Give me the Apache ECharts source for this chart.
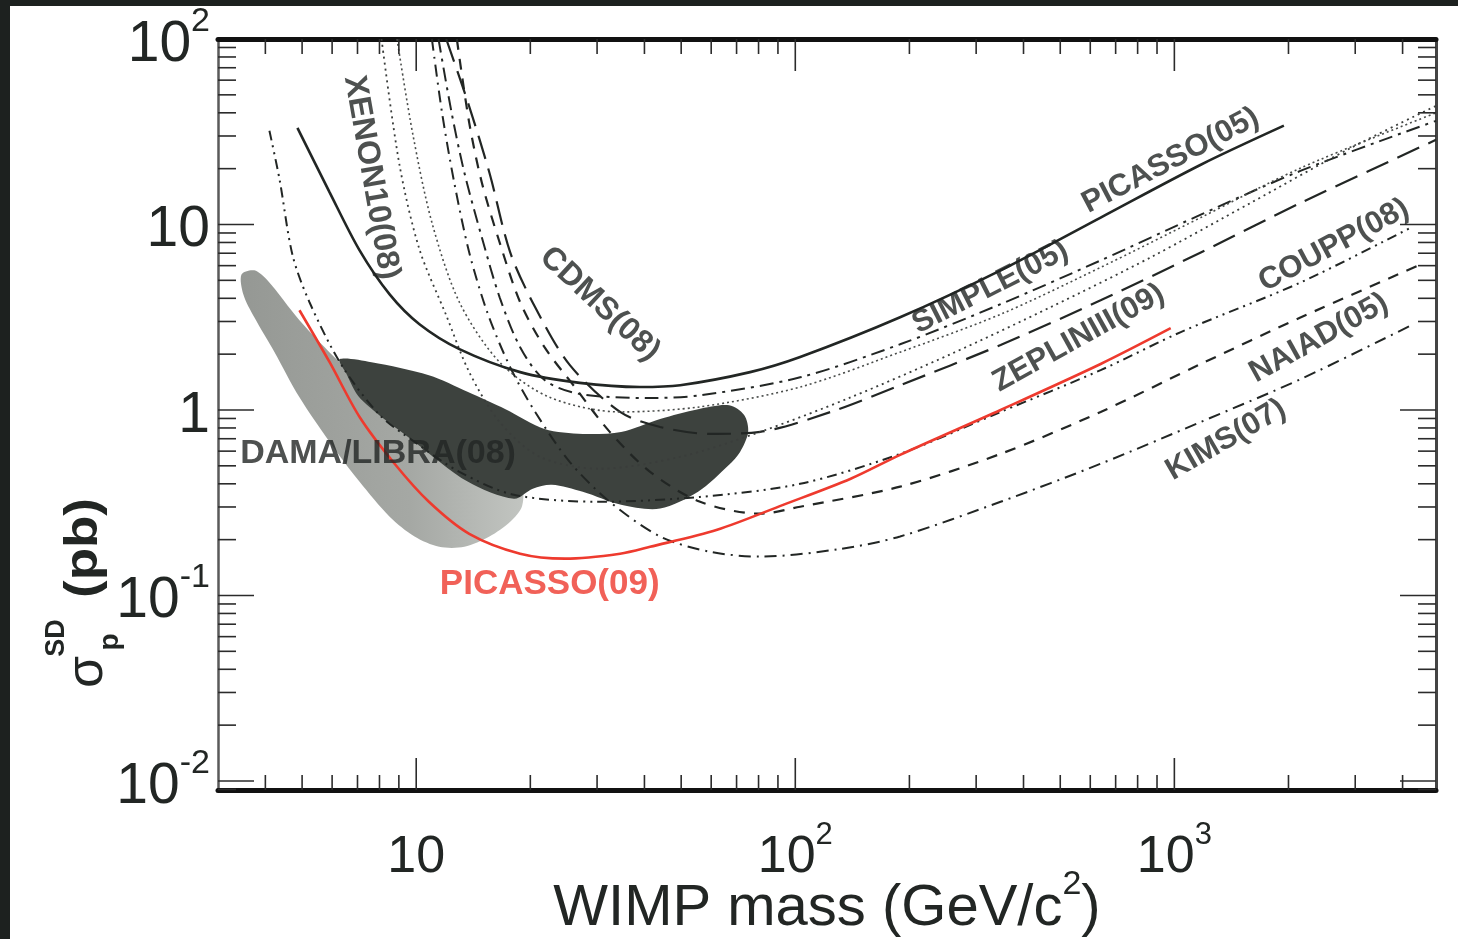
<!DOCTYPE html>
<html>
<head>
<meta charset="utf-8">
<title>Spin-dependent WIMP-proton limits</title>
<script src="https://cdn.jsdelivr.net/npm/echarts@6/dist/echarts.min.js"></script>
<style>
  html, body { margin: 0; padding: 0; background: #1d211f; overflow: hidden; }
  #chart { position: absolute; left: 10px; top: 6px; width: 1448px; height: 933px; background: #fff; }
</style>
</head>
<body>
<div id="chart"></div>
<script>
/* axis ranges (GeV/c2, pb) */
const massMin = 3
const massMax = 4900
const sigmaMin = 0.00894
const sigmaMax = 100

/* exclusion curves, [WIMP mass, sigma] */
const picasso09 = [[4.92, 3.45], [5.91, 1.81], [7.09, 0.917], [8.77, 0.513], [10.8, 0.320], [13.8, 0.215], [18.8, 0.168], [24.7, 0.158], [34.5, 0.168], [41.4, 0.183], [62.2, 0.226], [92.9, 0.308], [140, 0.426], [189, 0.573], [348, 1.0], [639, 1.77], [978, 2.76]]
const picasso05 = [[4.86, 33.2], [5.91, 14.9], [7.09, 7.25], [8.51, 4.20], [10.2, 2.90], [13.0, 2.13], [18.8, 1.60], [27.0, 1.40], [38.9, 1.33], [49.7, 1.36], [76.0, 1.60], [103, 1.93], [189, 3.16], [348, 5.66], [639, 10.9], [1174, 21.0], [1945, 34.1]]
const coupp08 = [[4.10, 32.0], [4.36, 17.5], [4.72, 6.81], [5.23, 3.81], [6.35, 1.75], [8.01, 0.940], [9.90, 0.673], [13.0, 0.464], [18.1, 0.349], [30.5, 0.320], [56.1, 0.340], [103, 0.400], [189, 0.580], [348, 0.976], [639, 1.64], [1040, 2.63], [2158, 4.88], [4212, 9.64]]
const naiad05 = [[12.8, 100], [13.8, 35.3], [14.9, 16.8], [16.6, 8.00], [18.8, 3.81], [21.8, 2.18], [26.2, 1.33], [32.4, 0.762], [41.4, 0.464], [56.1, 0.320], [80.8, 0.276], [103, 0.301], [189, 0.386], [348, 0.580], [639, 0.976], [1174, 1.77], [2158, 3.16], [4477, 6.10]]
const kims07 = [[11.0, 100], [11.7, 40.0], [12.6, 16.8], [13.8, 7.07], [15.4, 3.36], [17.7, 1.70], [20.6, 0.976], [25.4, 0.525], [32.4, 0.320], [44.0, 0.208], [59.6, 0.172], [80.8, 0.162], [131, 0.178], [189, 0.208], [348, 0.320], [639, 0.513], [1174, 0.862], [2158, 1.47], [4212, 2.86]]
const cdms08 = [[11.45, 100], [12.4, 40.0], [13.4, 19.0], [14.9, 8.51], [16.6, 4.05], [18.8, 2.18], [21.8, 1.45], [27.0, 1.22], [41.4, 1.16], [56.1, 1.20], [103, 1.50], [189, 2.26], [348, 3.72], [639, 6.40], [1174, 11.3], [2158, 19.5], [4900, 36.2]]
const zeplin09 = [[12.0, 100], [13.7, 45.3], [15.6, 19.0], [17.7, 7.07], [20.6, 3.58], [25.4, 1.75], [34.5, 0.976], [44.0, 0.810], [59.6, 0.743], [80.8, 0.762], [124, 0.976], [189, 1.36], [348, 2.24], [639, 3.90], [1174, 7.07], [2158, 13.1], [4900, 28.6]]
const simple05 = [[8.1, 100], [9.04, 20.8], [10.2, 7.34], [12.0, 3.24], [13.8, 1.60], [16.6, 0.862], [21.2, 0.559], [30.5, 0.482], [49.7, 0.559], [80.8, 0.762], [140, 1.17], [257, 2.00], [471, 3.58], [866, 6.65], [1592, 13.1], [2924, 25.9], [4900, 43.6]]
const xenon10 = [[8.9, 100], [9.78, 31.2], [11.0, 10.25], [13.0, 3.81], [16.6, 1.81], [22.5, 1.17], [34.5, 0.976], [56.1, 1.04], [103, 1.33], [189, 2.05], [348, 3.28], [639, 5.87], [1174, 10.9], [2158, 20.2], [4900, 40.0]]

/* DAMA/LIBRA allowed regions (outline, [mass, sigma]) */
const damaLight = [[3.46, 5.38], [3.74, 5.66], [4.05, 5.00], [4.92, 3.05], [6.28, 1.81], [8.01, 1.17], [10.2, 0.810], [13.8, 0.559], [17.1, 0.420], [19.0, 0.371], [19.0, 0.301], [17.7, 0.250], [15.6, 0.208], [13.4, 0.183], [11.5, 0.183], [9.90, 0.208], [8.51, 0.266], [7.09, 0.410], [5.91, 0.673], [4.92, 1.17], [4.23, 2.05], [3.74, 3.16], [3.50, 4.20]]
const damaDark = [[6.28, 1.88], [7.62, 1.81], [10.8, 1.54], [13.7, 1.25], [17.2, 1.01], [21.8, 0.790], [27.5, 0.743], [34.7, 0.762], [44.0, 0.895], [55.4, 1.01], [66.9, 1.06], [73.3, 0.940], [75.1, 0.762], [71.5, 0.594], [66.9, 0.506], [55.4, 0.362], [44.0, 0.294], [34.7, 0.308], [27.5, 0.362], [22.8, 0.395], [20.3, 0.376], [18.1, 0.332], [13.7, 0.410], [9.90, 0.673], [7.13, 1.15], [6.51, 1.60]]

/* curve names */
const labelTexts = ['PICASSO(05)', 'SIMPLE(05)', 'ZEPLINIII(09)', 'COUPP(08)', 'NAIAD(05)', 'KIMS(07)', 'CDMS(08)', 'XENON10(08)', 'DAMA/LIBRA(08)', 'PICASSO(09)']

const FONT = "'Liberation Sans', Arial, sans-serif"
const INK = '#222624'
const RED = '#ee3a2e'

// where each name sits, in data coords, and its angle
const labelPlaces = [
  { at: [978, 22.1], rot: 27.5 },
  { at: [327, 4.58], rot: 27 },
  { at: [559, 2.44], rot: 29 },
  { at: [2636, 7.71], rot: 28 },
  { at: [2405, 2.44], rot: 29 },
  { at: [1368, 0.690], rot: 30 },
  { at: [30.5, 3.72], rot: -43 },
  { at: [7.62, 17.9], rot: -80 },
  { at: [7.93, 0.580], rot: 0, size: 34 },
  { at: [22.5, 0.115], rot: 0, size: 35, color: RED }
]

/* inward ticks on all four sides, 1..9 x 10^n */
const tickData = []
for (let e = -3; e <= 3; e++) {
  for (let k = 1; k <= 9; k++) {
    const v = k * Math.pow(10, e)
    if (v > massMin && v < massMax) tickData.push([v, sigmaMin, 0, k === 1 ? 1 : 0])
    if (v > sigmaMin && v < sigmaMax) tickData.push([massMin, v, 1, k === 1 ? 1 : 0])
  }
}

const isDecade = v => Math.abs(Math.log10(v) - Math.round(Math.log10(v))) < 1e-6
const powLabel = v => {
  if (!isDecade(v)) return ''
  const e = Math.round(Math.log10(v))
  if (e === 0) return '{b|1}'
  if (e === 1) return '{b|10}'
  return '{b|10}{s|' + e + '}'
}
const richFor = (big, small) => ({
  b: { fontSize: big, lineHeight: big + 12, verticalAlign: 'bottom', fontFamily: FONT, color: INK },
  s: { fontSize: small, lineHeight: small, verticalAlign: 'top', fontFamily: FONT, color: INK }
})

const renderTicks = (params, api) => {
  const cs = params.coordSys
  const p = api.coord([api.value(0), api.value(1)])
  const major = api.value(3) === 1
  const style = { stroke: '#2b2b2b', lineWidth: 1.6 }
  if (api.value(2) === 0) {
    const len = major ? 32 : 15
    const yb = cs.y + cs.height
    return {
      type: 'group',
      children: [
        { type: 'line', shape: { x1: p[0], y1: yb, x2: p[0], y2: yb - len }, style },
        { type: 'line', shape: { x1: p[0], y1: cs.y, x2: p[0], y2: cs.y + len }, style }
      ]
    }
  }
  const len = major ? 36 : 18
  const xr = cs.x + cs.width
  return {
    type: 'group',
    children: [
      { type: 'line', shape: { x1: cs.x, y1: p[1], x2: cs.x + len, y2: p[1] }, style },
      { type: 'line', shape: { x1: xr, y1: p[1], x2: xr - len, y2: p[1] }, style }
    ]
  }
}

const regions = [damaLight, damaDark]
const renderRegion = (params, api) => {
  const idx = api.value(2)
  const pts = regions[idx].map(d => api.coord(d))
  const fill = idx === 0
    ? new echarts.graphic.LinearGradient(0, 0, 1, 0, [
        { offset: 0, color: '#959894' },
        { offset: 0.6, color: '#a5a8a4' },
        { offset: 1, color: '#c2c5c1' }
      ])
    : '#3d423e'
  return { type: 'polygon', shape: { points: pts, smooth: 0.3 }, style: { fill } }
}

const curve = (name, data, color, width, type) => ({
  name,
  type: 'line',
  data,
  symbol: 'none',
  smooth: 0.3,
  lineStyle: { color, width, type },
  z: 3,
  silent: true
})

const chart = echarts.init(document.getElementById('chart'))

const logAxis = (extra) => Object.assign({
  type: 'log',
  logBase: 10,
  splitLine: { show: false },
  axisTick: { show: false },
  minorTick: { show: false }
}, extra)

const option = {
  animation: false,
  backgroundColor: '#fff',
  grid: { left: 208, top: 33, right: 22, bottom: 149, containLabel: false, outerBoundsMode: 'none' },
  xAxis: [
    logAxis({
      min: massMin,
      max: massMax,
      axisLine: { onZero: false, lineStyle: { color: '#111', width: 5 } },
      axisLabel: { formatter: powLabel, rich: richFor(52, 31), margin: 30 },
      name: '{n|WIMP mass (GeV/c}{sup|2}{n|)}',
      nameLocation: 'middle',
      nameGap: 78,
      nameMoveOverlap: false,
      nameTextStyle: {
        rich: {
          n: { fontSize: 58, lineHeight: 70, verticalAlign: 'bottom', fontFamily: FONT, color: INK },
          sup: { fontSize: 34, lineHeight: 34, verticalAlign: 'top', fontFamily: FONT, color: INK }
        }
      }
    }),
    logAxis({
      min: massMin,
      max: massMax,
      position: 'top',
      axisLine: { onZero: false, lineStyle: { color: '#111', width: 5 } },
      axisLabel: { show: false }
    })
  ],
  yAxis: [
    logAxis({
      min: sigmaMin,
      max: sigmaMax,
      axisLine: { onZero: false, lineStyle: { color: '#5a5a5a', width: 2.5 } },
      axisLabel: { formatter: powLabel, rich: richFor(57, 34), margin: 8 }
    }),
    logAxis({
      min: sigmaMin,
      max: sigmaMax,
      position: 'right',
      axisLine: { onZero: false, lineStyle: { color: '#444', width: 3 } },
      axisLabel: { show: false }
    })
  ],
  graphic: [
    {
      type: 'group',
      x: 78,
      y: 594,
      rotation: Math.PI / 2,
      silent: true,
      children: [
        { type: 'text', x: -72, y: 0, style: { text: 'σ', font: '52px ' + FONT, fill: INK, align: 'center', verticalAlign: 'middle' } },
        { type: 'text', x: -38, y: -31, style: { text: 'SD', font: 'bold 27px ' + FONT, fill: INK, align: 'center', verticalAlign: 'middle' } },
        { type: 'text', x: -42, y: 22, style: { text: 'p', font: 'bold 28px ' + FONT, fill: INK, align: 'center', verticalAlign: 'middle' } },
        { type: 'text', x: 52, y: -4, scaleX: 1.15, style: { text: '(pb)', font: 'bold 46px ' + FONT, fill: INK, align: 'center', verticalAlign: 'middle' } }
      ]
    }
  ],
  series: [
    {
      type: 'custom',
      renderItem: renderRegion,
      data: [[damaLight[0][0], damaLight[0][1], 0], [damaDark[0][0], damaDark[0][1], 1]],
      z: 1,
      silent: true
    },
    curve('KIMS(07)', kims07, INK, 2, [12, 6, 2, 6]),
    curve('NAIAD(05)', naiad05, INK, 2.2, [11, 9]),
    curve('COUPP(08)', coupp08, INK, 2, [10, 5, 2, 5, 2, 5]),
    curve('ZEPLINIII(09)', zeplin09, INK, 2.2, [24, 10]),
    curve('CDMS(08)', cdms08, INK, 2, [14, 6, 3, 6]),
    curve('SIMPLE(05)', simple05, '#3a3d3b', 1.8, [2, 4]),
    curve('XENON10(08)', xenon10, '#4a4d4b', 1.6, [2, 3]),
    curve('PICASSO(05)', picasso05, INK, 2.6, 'solid'),
    Object.assign(curve('PICASSO(09)', picasso09, RED, 2.6, 'solid'), { z: 4 }),
    {
      type: 'custom',
      renderItem: renderTicks,
      data: tickData,
      clip: false,
      z: 5,
      silent: true
    },
    {
      type: 'scatter',
      symbolSize: 1,
      itemStyle: { color: 'rgba(0,0,0,0)' },
      z: 6,
      silent: true,
      data: labelTexts.map((t, i) => {
        const p = labelPlaces[i]
        return {
          value: p.at,
          label: {
            show: true,
            position: 'inside',
            formatter: t,
            rotate: p.rot,
            align: 'center',
            verticalAlign: 'middle',
            fontSize: p.size || (p.rot === -80 ? 32 : p.rot === -43 ? 32 : 31),
            fontWeight: 'bold',
            fontFamily: FONT,
            color: p.color || INK
          }
        }
      })
    }
  ]
}

chart.setOption(option)
</script>
</body>
</html>
